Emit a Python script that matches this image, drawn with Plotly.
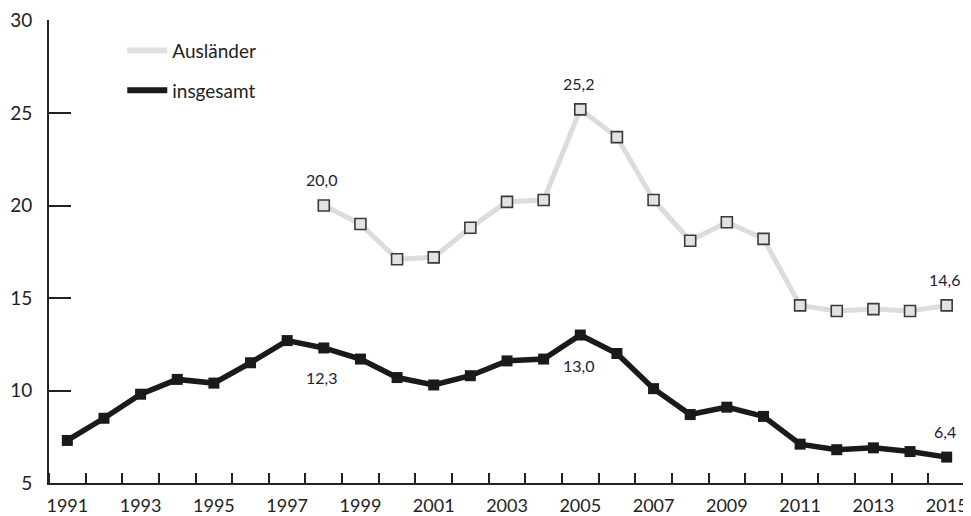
import plotly.graph_objects as go

years = list(range(1991, 2016))
insgesamt = [7.3, 8.5, 9.8, 10.6, 10.4, 11.5, 12.7, 12.3, 11.7, 10.7, 10.3, 10.8,
             11.6, 11.7, 13.0, 12.0, 10.1, 8.7, 9.1, 8.6, 7.1, 6.8, 6.9, 6.7, 6.4]
years_aus = list(range(1998, 2016))
auslaender = [20.0, 19.0, 17.1, 17.2, 18.8, 20.2, 20.3, 25.2, 23.7, 20.3, 18.1, 19.1,
              18.2, 14.6, 14.3, 14.4, 14.3, 14.6]
tick_years = list(range(1991, 2016, 2))
y_ticks = [5, 10, 15, 20, 25, 30]

# labelled points: (year, value, pixel shift)
labels_aus = [(1998, 20.0, 26), (2005, 25.2, 26), (2015, 14.6, 26)]
labels_ins = [(1998, 12.3, -30), (2005, 13.0, -30), (2015, 6.4, 26)]

FONT = "Lato"
fig = go.Figure()

fig.add_trace(go.Scatter(
    x=years_aus, y=auslaender, mode="lines+markers", showlegend=False,
    line=dict(color="#dcdcdc", width=5),
    marker=dict(symbol="square", size=11, color="#e2e2e2",
                line=dict(color="#3a3a3a", width=1.6)),
))
fig.add_trace(go.Scatter(
    x=years, y=insgesamt, mode="lines+markers", showlegend=False,
    line=dict(color="#1a1a1a", width=5.5),
    marker=dict(symbol="square", size=11, color="#1a1a1a"),
))
# legend-only traces
fig.add_trace(go.Scatter(x=[None], y=[None], mode="lines", name="Ausländer",
                         line=dict(color="#e0e0e0", width=6), legendgroup="a"))
fig.add_trace(go.Scatter(x=[None], y=[None], mode="lines", name="insgesamt",
                         line=dict(color="#1a1a1a", width=6), legendgroup="b"))

for yr, v, s in labels_aus + labels_ins:
    fig.add_annotation(x=yr, y=v, text=f"{v:.1f}".replace(".", ","),
                       showarrow=False, yshift=s, xshift=-2,
                       font=dict(family=FONT, size=16, color="#222233"))

# page body has an 8px margin, so the figure is sized to fit the window
fig.update_layout(
    width=963, height=508,
    margin=dict(l=41, r=6, t=12, b=33, autoexpand=False),
    plot_bgcolor="white", paper_bgcolor="white",
    font=dict(family=FONT, size=17, color="#222222"),
    legend=dict(x=0.08, y=0.975, xanchor="left", yanchor="top",
                bgcolor="rgba(0,0,0,0)", font=dict(family=FONT, size=19),
                tracegroupgap=12, itemwidth=40),
    xaxis=dict(range=[1990.5, 2015.5], tickmode="array", tickvals=tick_years,
               ticktext=[str(t) for t in tick_years], ticks="",
               showline=True, linecolor="#222222", linewidth=2,
               showgrid=False, zeroline=False, ticklabelstandoff=5,
               automargin=False,
               tickfont=dict(family=FONT, size=18),
               minor=dict(tick0=1991.5, dtick=1, ticks="inside", ticklen=10,
                          tickwidth=2, tickcolor="#222222", showgrid=False)),
    yaxis=dict(range=[5, 30.03], tickmode="array", tickvals=y_ticks,
               ticktext=[str(t) for t in y_ticks],
               ticks="inside", ticklen=22, tickwidth=2, tickcolor="#222222",
               showline=True, linecolor="#222222", linewidth=2,
               showgrid=False, zeroline=False, ticklabelstandoff=11,
               automargin=False,
               tickfont=dict(family=FONT, size=19)),
)

fig.write_html("out.html")
